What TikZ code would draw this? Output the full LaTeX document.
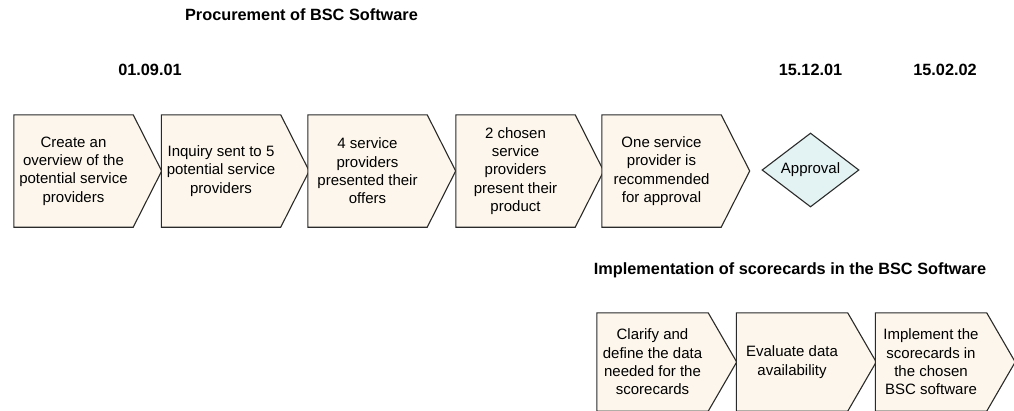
\documentclass[tikz,border=0pt]{standalone}
\usepackage{fontspec}
\setmainfont{Liberation Sans}
\usetikzlibrary{backgrounds,shapes.geometric}
\definecolor{stepfill}{HTML}{FCF6EC}
\definecolor{decfill}{HTML}{E3F2F3}
\definecolor{edge}{HTML}{2A2A2A}
\newcommand\chevbox[6]{% name, x, y, width, height, text
  \node[chevtext, minimum width=#4pt, minimum height=#5pt] (#1) at (#2,#3) {#6};
  \begin{pgfonlayer}{background}
    \draw[chevshape] (#1.north west) -- (#1.north east) -- ([xshift=28.5pt]#1.east) -- (#1.south east) -- (#1.south west) -- cycle;
  \end{pgfonlayer}
}
\begin{document}
\begin{tikzpicture}[x=1pt,y=-1pt,
  chevtext/.style={inner sep=0pt, align=center, font=\fontsize{15}{18.3}\selectfont, text=black},
  chevshape/.style={draw=edge, fill=stepfill, line width=1.1pt, line join=miter},
  title/.style={font=\fontsize{16.3}{19}\selectfont\bfseries, inner sep=0pt},
  decision/.style={diamond, draw=edge, fill=decfill, line width=1.1pt, minimum width=97pt, minimum height=74pt, inner sep=0pt, aspect=1.31, font=\fontsize{15}{18.3}\selectfont}]
\useasboundingbox (0,0) rectangle (1014,410);

\node[title] (t1) at (301.5,15) {Procurement of BSC Software};
\node[title] (d1) at (150,70) {01.09.01};
\node[title] (d2) at (810.5,70) {15.12.01};
\node[title] (d3) at (945,70) {15.02.02};
\node[title] (t2) at (790,270) {Implementation of scorecards in the BSC Software};

\chevbox{a1}{73.5}{171}{119}{112}{Create an\\overview of the\\potential service\\providers}
\chevbox{a2}{221}{171}{119}{112}{Inquiry sent to 5\\potential service\\providers}
\chevbox{a3}{367.5}{171}{119}{112}{4 service\\providers\\presented their\\offers}
\chevbox{a4}{515.5}{171}{119}{112}{2 chosen\\service\\providers\\present their\\product}
\chevbox{a5}{661.5}{171}{119}{112}{One service\\provider is\\recommended\\for approval}

\node[decision] (ap) at (810.5,170) {Approval};

\chevbox{b1}{652.5}{362}{111}{98}{Clarify and\\define the data\\needed for the\\scorecards}
\chevbox{b2}{792}{362}{111}{98}{Evaluate data\\availability}
\chevbox{b3}{931}{362}{111}{98}{Implement the\\scorecards in\\the chosen\\BSC software}
\end{tikzpicture}
\end{document}
